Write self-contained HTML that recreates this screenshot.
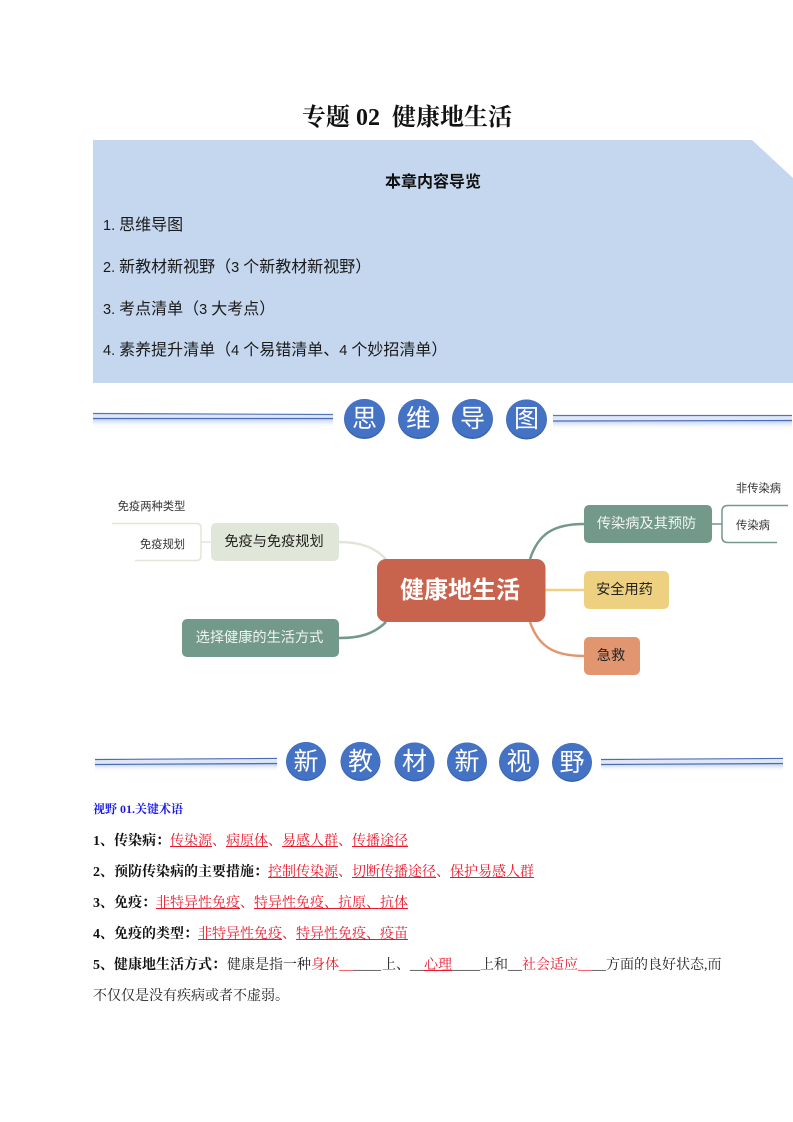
<!DOCTYPE html>
<html lang="zh-CN">
<head>
<meta charset="utf-8">
<style>
html,body{margin:0;padding:0;background:#fff}
body{width:793px;height:1122px;position:relative;overflow:hidden}
#p{position:absolute;left:0;top:0;width:793px;height:1122px;filter:blur(.35px)}
.t{position:absolute;white-space:pre;line-height:1}
.sans{font-family:"Liberation Sans","Noto Sans CJK SC",sans-serif}
.item{font-family:"Noto Sans CJK SC",sans-serif;font-size:16px;left:103px;color:#1a1a1a}
.item i{font-family:"Liberation Sans",sans-serif;font-style:normal;font-size:14.5px}
.item i.n{padding-right:4px}
.serif{font-family:"Liberation Serif","Noto Serif CJK SC",serif}
.ln{left:93px;font-size:14px;color:#222;font-family:"Liberation Serif","Noto Serif CJK SC",serif;line-height:20px}
.ln b{color:#111}
.r{color:#e8192c;text-decoration:underline;text-decoration-color:#e8192c}
.rn{color:#e8192c}
svg{position:absolute;left:0;top:0}
svg text{font-family:"Liberation Sans","Noto Sans CJK SC",sans-serif}
</style>
</head>
<body>
<div id="p">
<svg width="793" height="1122" viewBox="0 0 793 1122">
<defs>
<linearGradient id="sh" x1="0" y1="0" x2="0" y2="1"><stop offset="0" stop-color="#b9cbec" stop-opacity=".9"/><stop offset="1" stop-color="#fff" stop-opacity="0"/></linearGradient>
</defs>
<polygon points="93,140 752,140 793,178 793,383 93,383" fill="#c5d7ef"/>

<!-- banner 1 -->
<rect x="93" y="414" width="240" height="5" fill="#dfe7f6"/>
<rect x="93" y="419" width="240" height="9" fill="url(#sh)"/>
<line x1="93" y1="413.5" x2="333" y2="414.5" stroke="#5575b8" stroke-width="1.2"/>
<line x1="93" y1="418.5" x2="333" y2="418.5" stroke="#4a6cb8" stroke-width="1.2"/>
<rect x="553" y="416" width="239" height="5" fill="#dfe7f6"/>
<rect x="553" y="421" width="239" height="9" fill="url(#sh)"/>
<line x1="553" y1="415.5" x2="792" y2="415.5" stroke="#5575b8" stroke-width="1.2"/>
<line x1="553" y1="421" x2="792" y2="420.5" stroke="#4a6cb8" stroke-width="1.2"/>
<g fill="#3a62aa">
<ellipse cx="364.5" cy="419" rx="20.5" ry="20"/>
<ellipse cx="418.5" cy="419" rx="20.5" ry="20"/>
<ellipse cx="472.5" cy="419" rx="20.5" ry="20"/>
<ellipse cx="526.5" cy="419.500" rx="20.5" ry="20"/>
</g>
<g fill="#4472c4">
<ellipse cx="364.5" cy="418.2" rx="20.2" ry="19.2"/>
<ellipse cx="418.5" cy="418.2" rx="20.2" ry="19.2"/>
<ellipse cx="472.5" cy="418.2" rx="20.2" ry="19.2"/>
<ellipse cx="526.5" cy="418.7" rx="20.2" ry="19.2"/>
</g>
<g fill="#fff" font-size="25" text-anchor="middle">
<text x="364.5" y="427">思</text>
<text x="418.5" y="427">维</text>
<text x="472.5" y="427">导</text>
<text x="526.5" y="427">图</text>
</g>

<!-- mind map connectors -->
<g fill="none" stroke-width="2.5">
<path d="M530,559 C538,535 552,524 584,524" stroke="#72998a"/>
<path d="M545,590 L584,590" stroke="#eed180"/>
<path d="M530,622 C538,645 552,656 584,656" stroke="#e29670"/>
<path d="M339,542 C360,542 374,547 386,559" stroke="#e1e7d8"/>
<path d="M339,638 C360,638 374,634 386,622" stroke="#72998a"/>
<path d="M712,524 L722,524" stroke="#72998a" stroke-width="1.5"/>
<path d="M201,542 L211,542" stroke="#e1e7d8" stroke-width="1.5"/>
<path d="M788,505.5 L728,505.5 Q722,505.5 722,511 L722,537 Q722,542.5 728,542.5 L777,542.5" stroke="#72998a" stroke-width="1.5"/>
<path d="M112,523.5 L196,523.5 Q201,523.5 201,528 L201,556 Q201,560.5 196,560.5 L135,560.5" stroke="#e1e7d8" stroke-width="1.5"/>
</g>
<!-- nodes -->
<rect x="377" y="559" width="168.5" height="63" rx="9" fill="#c8634e"/>
<rect x="584" y="505" width="128" height="38" rx="5" fill="#72998a"/>
<rect x="584" y="571" width="85" height="38" rx="5" fill="#eed180"/>
<rect x="584" y="637" width="56" height="38" rx="5" fill="#e29670"/>
<rect x="211" y="523" width="128" height="38" rx="5" fill="#e1e7d8"/>
<rect x="182" y="619" width="157" height="38" rx="5" fill="#72998a"/>

<text x="460" y="598" fill="#fff" font-size="24" font-weight="700" text-anchor="middle">健康地生活</text>
<text x="646.500" y="528" fill="#f0f4f2" font-size="14.2" text-anchor="middle">传染病及其预防</text>
<text x="624.500" y="594" fill="#222" font-size="14.2" text-anchor="middle">安全用药</text>
<text x="611" y="660" fill="#222" font-size="14.2" text-anchor="middle">急救</text>
<text x="274" y="546" fill="#222" font-size="14.2" text-anchor="middle">免疫与免疫规划</text>
<text x="259.500" y="642" fill="#f0f4f2" font-size="14.2" text-anchor="middle">选择健康的生活方式</text>
<text x="162.500" y="548" fill="#333" font-size="11.3" text-anchor="middle">免疫规划</text>
<text x="151.500" y="510" fill="#333" font-size="11.3" text-anchor="middle">免疫两种类型</text>
<text x="753" y="529" fill="#333" font-size="11.3" text-anchor="middle">传染病</text>
<text x="758.500" y="492" fill="#333" font-size="11.3" text-anchor="middle">非传染病</text>

<!-- banner 2 -->
<rect x="95" y="760" width="182" height="4" fill="#dfe7f6"/>
<rect x="95" y="764" width="182" height="8" fill="url(#sh)"/>
<line x1="95" y1="759.5" x2="277" y2="758.5" stroke="#4a6cb8" stroke-width="1.2"/>
<line x1="95" y1="764.5" x2="277" y2="763.500" stroke="#4a6cb8" stroke-width="1.2"/>
<rect x="601" y="760" width="182" height="4" fill="#dfe7f6"/>
<rect x="601" y="764" width="182" height="8" fill="url(#sh)"/>
<line x1="601" y1="759.5" x2="783" y2="758.500" stroke="#4a6cb8" stroke-width="1.2"/>
<line x1="601" y1="764.5" x2="783" y2="763.500" stroke="#4a6cb8" stroke-width="1.2"/>
<g fill="#3a62aa">
<ellipse cx="306" cy="761.5" rx="20" ry="19.5"/>
<ellipse cx="360.500" cy="761.5" rx="20" ry="19.5"/>
<ellipse cx="414.500" cy="762" rx="20" ry="19.5"/>
<ellipse cx="467" cy="762" rx="20" ry="19.5"/>
<ellipse cx="519" cy="762" rx="20" ry="19.5"/>
<ellipse cx="572" cy="762.5" rx="20" ry="19.5"/>
</g>
<g fill="#4472c4">
<ellipse cx="306" cy="760.8" rx="19.7" ry="18.8"/>
<ellipse cx="360.500" cy="760.8" rx="19.7" ry="18.8"/>
<ellipse cx="414.500" cy="761.3" rx="19.7" ry="18.8"/>
<ellipse cx="467" cy="761.3" rx="19.7" ry="18.8"/>
<ellipse cx="519" cy="761.3" rx="19.7" ry="18.8"/>
<ellipse cx="572" cy="761.8" rx="19.7" ry="18.8"/>
</g>
<g fill="#fff" font-size="25" text-anchor="middle">
<text x="306" y="770">新</text>
<text x="360.500" y="770">教</text>
<text x="414.500" y="770">材</text>
<text x="467" y="770">新</text>
<text x="519" y="770">视</text>
<text x="572" y="771">野</text>
</g>
</svg>

<div class="t serif" style="left:302px;top:106px;font-size:24px;font-weight:700;color:#111">专题 02  健康地生活</div>
<div class="t sans" style="left:385px;top:175px;font-size:16px;font-weight:700;color:#111">本章内容导览</div>
<div class="t item" style="top:215px"><i class="n">1.</i>思维导图</div>
<div class="t item" style="top:257px"><i class="n">2.</i>新教材新视野（<i>3 </i>个新教材新视野）</div>
<div class="t item" style="top:299px"><i class="n">3.</i>考点清单（<i>3 </i>大考点）</div>
<div class="t item" style="top:340px"><i class="n">4.</i>素养提升清单（<i>4 </i>个易错清单、<i>4 </i>个妙招清单）</div>

<div class="t serif" style="left:93px;top:803px;font-size:12px;font-weight:700;color:#1a1ae6">视野 01.关键术语</div>
<div class="t ln" style="top:832px"><b>1、传染病：</b><span class="r">传染源</span><span class="rn">、</span><span class="r">病原体</span><span class="rn">、</span><span class="r">易感人群</span><span class="rn">、</span><span class="r">传播途径</span></div>
<div class="t ln" style="top:863px"><b>2、预防传染病的主要措施：</b><span class="r">控制传染源</span><span class="rn">、</span><span class="r">切断传播途径</span><span class="rn">、</span><span class="r">保护易感人群</span></div>
<div class="t ln" style="top:894px"><b>3、免疫：</b><span class="r">非特异性免疫</span><span class="rn">、</span><span class="r">特异性免疫、抗原、抗体</span></div>
<div class="t ln" style="top:925px"><b>4、免疫的类型：</b><span class="r">非特异性免疫</span><span class="rn">、</span><span class="r">特异性免疫、疫苗</span></div>
<div class="t ln" style="top:956px"><b>5、健康地生活方式：</b><span style="margin-left:1px">健康是指一种</span><span class="rn">身体__</span>____<span style="margin-left:1px">上、</span>__<span class="r">心理</span>____上和__<span class="rn">社会适应__</span>__方面的良好状态,而</div>
<div class="t ln" style="top:987px">不仅仅是没有疾病或者不虚弱。</div>
</div>
</body>
</html>
